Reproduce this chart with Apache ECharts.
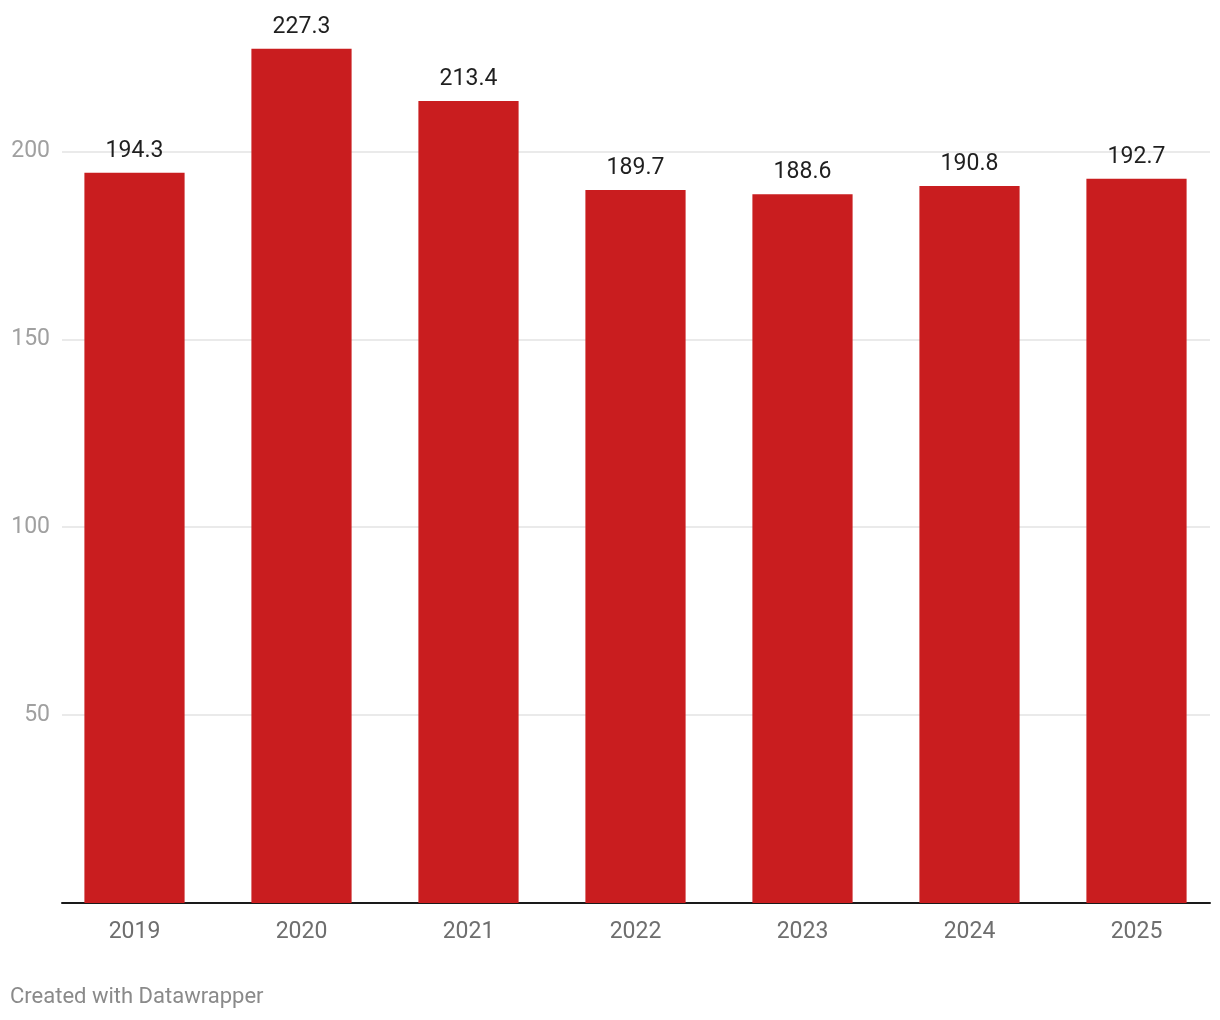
<!DOCTYPE html>
<html>
<head>
<meta charset="utf-8">
<script src="https://cdn.jsdelivr.net/npm/echarts@6/dist/echarts.min.js"></script>
<style>
html,body{margin:0;padding:0;background:#fff;}
#chart{width:1220px;height:1020px;}
</style>
</head>
<body>
<div id="chart"></div>
<script>
const categories = ['2019', '2020', '2021', '2022', '2023', '2024', '2025'];
const values = [194.3, 227.3, 213.4, 189.7, 188.6, 190.8, 192.7];
const yTicks = [0, 50, 100, 150, 200];
const yAxisMax = 240;
const footer = 'Created with Datawrapper';

const FONT = 'Roboto, "Noto Sans", sans-serif';
const chart = echarts.init(document.getElementById('chart'), null, {renderer: 'canvas'});
const yMin = yTicks[0], yStep = yTicks[1] - yTicks[0];

chart.setOption({
  backgroundColor: '#ffffff',
  animation: false,
  textStyle: {fontFamily: FONT},
  grid: [
    {left: 51, width: 1171, top: 1, height: 902, containLabel: false},
    {left: 62, right: 10, top: 1, height: 902, containLabel: false}
  ],
  xAxis: [
    {
      type: 'category', gridIndex: 0, data: categories,
      axisLine: {show: false}, axisTick: {show: false},
      axisLabel: {color: '#6e6e6e', fontSize: 23, margin: 18, fontFamily: FONT}
    },
    {
      type: 'value', gridIndex: 1, min: 0, max: 1,
      axisLine: {show: true, onZero: false, lineStyle: {color: '#1a1a1a', width: 2}},
      axisTick: {show: false}, axisLabel: {show: false}, splitLine: {show: false}
    }
  ],
  yAxis: [
    {
      type: 'value', gridIndex: 0, min: yMin, max: yAxisMax, interval: yStep,
      axisLine: {show: false}, axisTick: {show: false}, axisLabel: {show: false}, splitLine: {show: false}
    },
    {
      type: 'value', gridIndex: 1, min: yMin, max: yAxisMax, interval: yStep,
      axisLine: {show: false}, axisTick: {show: false},
      axisLabel: {
        color: '#a0a0a0', fontSize: 23, margin: 12, fontFamily: FONT,
        showMaxLabel: false,
        formatter: v => (yTicks.indexOf(v) > 0 ? String(v) : '')
      },
      splitLine: {show: true, showMaxLine: false, lineStyle: {color: '#e3e3e3', width: 1.5}}
    }
  ],
  series: [
    {
      type: 'bar', xAxisIndex: 0, yAxisIndex: 0,
      data: values,
      barCategoryGap: '40%',
      itemStyle: {color: '#c91d1f'},
      label: {
        show: true, position: 'top', distance: 10,
        color: '#1f1f1f', fontSize: 23, fontFamily: FONT,
        formatter: p => p.value.toFixed(1)
      }
    }
  ],
  graphic: [
    {
      type: 'text', left: 10, top: 986,
      style: {text: footer, fill: '#8a8a8a', font: '22px ' + FONT}
    }
  ]
});
</script>
</body>
</html>
